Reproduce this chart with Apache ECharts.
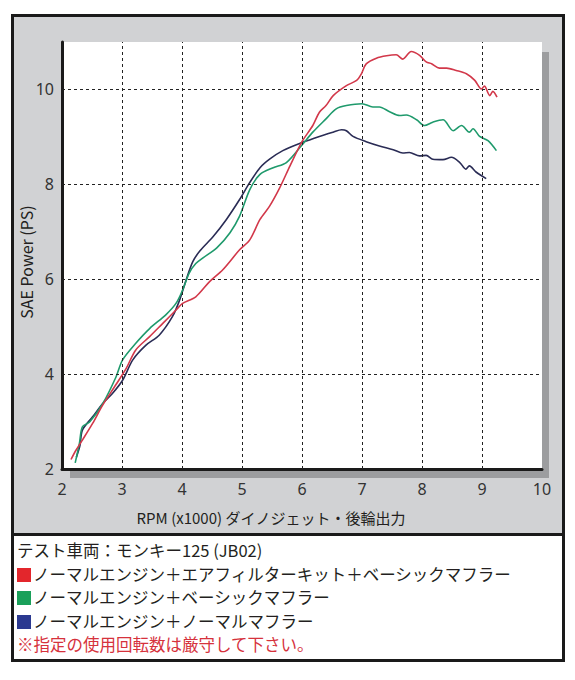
<!DOCTYPE html>
<html>
<head>
<meta charset="utf-8">
<script src="https://cdn.jsdelivr.net/npm/echarts@6/dist/echarts.min.js"></script>
<style>
  html, body { margin: 0; padding: 0; background: #fff; }
  #wrap { position: relative; width: 575px; height: 680px; overflow: hidden; }
  #frame { position: absolute; left: 11px; top: 14px; width: 548px; height: 642px; border: 3px solid #1a1a1a; background: #fff; }
  #panel { position: absolute; left: 0; top: 0; width: 548px; height: 516px; background: #d1d2d4; border-bottom: 3px solid #1a1a1a; }
  .shadow { position: absolute; background: #9c9d9f; }
  #main { position: absolute; left: 0; top: 0; width: 575px; height: 680px; }
  #legend { position: absolute; left: 17px; top: 539px; font-family: "Noto Sans CJK JP", sans-serif; font-size: 16.5px; line-height: 23.5px; color: #231f20; white-space: nowrap; }
  #legend .sw { display: inline-block; width: 14px; height: 14px; margin-right: 2px; vertical-align: -1px; }
  #legend .note { color: #d6323c; }
</style>
</head>
<body>
<div id="wrap">
  <div id="frame"><div id="panel"></div></div>
  <div class="shadow" style="left:542px; top:52px; width:7px; height:426px;"></div>
  <div class="shadow" style="left:70px; top:469px; width:479px; height:9px;"></div>
  <div id="main"></div>
  <div id="legend">
    <div>テスト車両：モンキー125 (JB02)</div>
    <div><span class="sw" style="background:#e3262c"></span>ノーマルエンジン＋エアフィルターキット＋ベーシックマフラー</div>
    <div><span class="sw" style="background:#1aa05a"></span>ノーマルエンジン＋ベーシックマフラー</div>
    <div><span class="sw" style="background:#2b3990"></span>ノーマルエンジン＋ノーマルマフラー</div>
    <div class="note">※指定の使用回転数は厳守して下さい。</div>
  </div>
</div>
<script>
// 横軸 RPM(x1000) / 縦軸 SAE Power(PS)
var xTicks = [3, 4, 5, 6, 7, 8, 9];
var yTicks = [4, 6, 8, 10];

// ノーマルエンジン＋エアフィルターキット＋ベーシックマフラー
var rpmRed = [2.15, 2.23, 2.34, 2.51, 2.68, 2.9, 3.07, 3.23, 3.46, 3.68, 3.9, 4.01, 4.23, 4.46, 4.68, 4.96, 5.13, 5.3, 5.46, 5.63, 5.8, 6.0, 6.18, 6.29, 6.4, 6.52, 6.74, 6.91, 6.99, 7.07, 7.24, 7.41, 7.57, 7.68, 7.82, 7.96, 8.07, 8.16, 8.29, 8.41, 8.57, 8.74, 8.88, 8.99, 9.04, 9.13, 9.18, 9.25];
var powerRed = [2.2, 2.39, 2.61, 2.96, 3.35, 3.78, 4.12, 4.51, 4.79, 5.07, 5.35, 5.49, 5.63, 5.95, 6.2, 6.62, 6.83, 7.26, 7.54, 7.93, 8.39, 8.9, 9.24, 9.52, 9.66, 9.87, 10.08, 10.19, 10.33, 10.54, 10.66, 10.71, 10.73, 10.64, 10.8, 10.72, 10.58, 10.54, 10.45, 10.45, 10.4, 10.33, 10.19, 10.01, 10.07, 9.87, 9.96, 9.84];

// ノーマルエンジン＋ベーシックマフラー
var rpmGreen = [2.22, 2.29, 2.34, 2.46, 2.68, 2.9, 3.01, 3.23, 3.46, 3.73, 3.9, 4.01, 4.12, 4.23, 4.35, 4.58, 4.8, 4.96, 5.13, 5.3, 5.52, 5.74, 6.0, 6.18, 6.4, 6.57, 6.74, 7.0, 7.18, 7.29, 7.46, 7.63, 7.74, 7.91, 8.04, 8.18, 8.35, 8.52, 8.66, 8.79, 8.85, 8.96, 9.1, 9.24];
var powerGreen = [2.13, 2.54, 2.89, 2.99, 3.38, 3.94, 4.3, 4.65, 4.96, 5.25, 5.49, 5.77, 6.13, 6.33, 6.45, 6.66, 6.98, 7.33, 7.89, 8.21, 8.35, 8.46, 8.83, 9.1, 9.38, 9.59, 9.66, 9.7, 9.63, 9.63, 9.53, 9.45, 9.46, 9.36, 9.24, 9.31, 9.36, 9.13, 9.24, 9.1, 9.17, 9.01, 8.92, 8.71];

// ノーマルエンジン＋ノーマルマフラー
var rpmBlue = [2.24, 2.3, 2.34, 2.51, 2.68, 2.84, 3.01, 3.18, 3.4, 3.62, 3.84, 3.96, 4.07, 4.18, 4.3, 4.52, 4.74, 4.96, 5.13, 5.3, 5.46, 5.68, 6.0, 6.29, 6.52, 6.66, 6.74, 6.85, 7.07, 7.29, 7.52, 7.68, 7.79, 7.96, 8.07, 8.18, 8.35, 8.49, 8.63, 8.73, 8.79, 8.9, 9.07];
var powerBlue = [2.25, 2.5, 2.82, 3.1, 3.38, 3.59, 3.87, 4.3, 4.61, 4.82, 5.21, 5.56, 5.99, 6.37, 6.6, 6.9, 7.26, 7.68, 8.04, 8.35, 8.53, 8.71, 8.88, 9.01, 9.1, 9.15, 9.13, 9.01, 8.9, 8.81, 8.73, 8.66, 8.67, 8.6, 8.61, 8.53, 8.52, 8.57, 8.46, 8.32, 8.39, 8.26, 8.12];

function zip(a, b) {
  return a.map(function (v, i) { return [v, b[i]]; });
}

var gridLines = xTicks.map(function (v) { return { xAxis: v }; })
  .concat(yTicks.map(function (v) { return { yAxis: v }; }));

var chart = echarts.init(document.getElementById('main'), null, { renderer: 'svg' });

chart.setOption({
  backgroundColor: 'transparent',
  animation: false,
  grid: {
    left: 62, top: 42, width: 480, height: 427,
    show: true, backgroundColor: '#fff', borderWidth: 0
  },
  xAxis: {
    type: 'value', min: 2, max: 10, interval: 1,
    axisLine: { show: true, onZero: false, lineStyle: { color: '#1a1a1a', width: 3 } },
    axisTick: { show: false },
    splitLine: { show: false },
    axisLabel: { margin: 12, color: '#333', fontSize: 16, fontFamily: 'Noto Sans' }
  },
  yAxis: {
    type: 'value', min: 2, max: 11, interval: 2,
    axisLine: { show: true, onZero: false, lineStyle: { color: '#1a1a1a', width: 3 } },
    axisTick: { show: false },
    splitLine: { show: false },
    axisLabel: {
      margin: 8, color: '#333', fontSize: 16, fontFamily: 'Noto Sans',
      formatter: function (v) { return v > 10 ? '' : v; }
    }
  },
  graphic: [
    {
      type: 'text', x: 271, y: 517,
      style: {
        text: 'RPM (x1000) ダイノジェット・後輪出力', fill: '#231f20', fontSize: 15,
        fontFamily: 'Noto Sans CJK JP', align: 'center', verticalAlign: 'middle'
      }
    },
    {
      type: 'text', x: 26, y: 262, rotation: Math.PI / 2,
      style: {
        text: 'SAE Power (PS)', fill: '#231f20', fontSize: 16,
        fontFamily: 'Noto Sans CJK JP', align: 'center', verticalAlign: 'middle'
      }
    }
  ],
  series: [
    {
      type: 'line', name: 'blue', data: zip(rpmBlue, powerBlue),
      showSymbol: false, smooth: 0.3, z: 3,
      lineStyle: { color: '#2a2c55', width: 1.6 },
      markLine: {
        silent: true, symbol: 'none', label: { show: false },
        lineStyle: { color: '#222', type: [3, 3], width: 1 },
        data: gridLines
      }
    },
    {
      type: 'line', name: 'green', data: zip(rpmGreen, powerGreen),
      showSymbol: false, smooth: 0.3, z: 4,
      lineStyle: { color: '#1f9a6c', width: 1.6 }
    },
    {
      type: 'line', name: 'red', data: zip(rpmRed, powerRed),
      showSymbol: false, smooth: 0.3, z: 5,
      lineStyle: { color: '#d2384a', width: 1.6 }
    }
  ]
});
</script>
</body>
</html>
